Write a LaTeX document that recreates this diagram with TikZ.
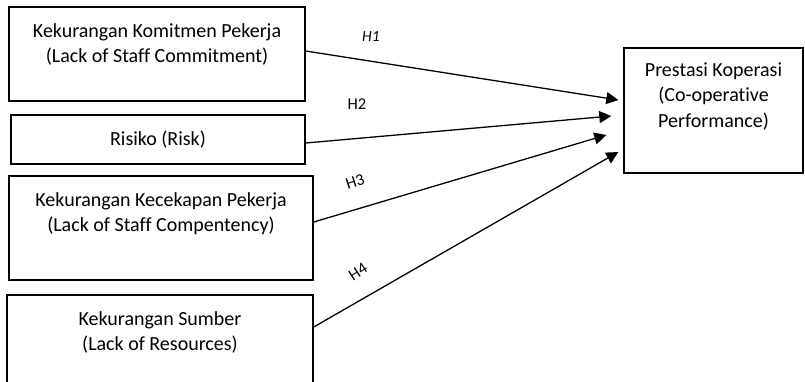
\documentclass[tikz,border=0pt]{standalone}
\usepackage{fontspec}
\setmainfont{Carlito}[Ligatures=NoCommon]
\usetikzlibrary{arrows.meta, positioning}

\begin{document}
\begin{tikzpicture}[
x=1pt, y=-1pt,
box/.style={draw, line width=1.4pt, inner sep=0},
txt/.style={align=center, inner sep=0, font=\fontsize{20}{25.5}\selectfont},
hyp/.style={inner sep=0, font=\fontsize{16.5}{19}\selectfont},
arrow/.style={-{Triangle[length=12pt, width=12pt]}, line width=1.3pt}
]
\useasboundingbox (0,0) rectangle (805,381);

\node[box, minimum width=296pt, minimum height=94pt] (commit) at (157,54) {};
\node[txt, below=17pt of commit.north] (commitT) {Kekurangan Komitmen Pekerja\\(Lack of Staff Commitment)};
\node[box, txt, minimum width=294pt, minimum height=49pt] (risk) at (158,139.5) {Risiko (Risk)};
\node[box, minimum width=304pt, minimum height=104pt] (skill) at (161,228) {};
\node[txt, below=17pt of skill.north] (skillT) {Kekurangan Kecekapan Pekerja\\(Lack of Staff Compentency)};
\node[box, minimum width=306pt, minimum height=105pt] (source) at (160,347.5) {};
\node[txt, below=17pt of source.north] (sourceT) {Kekurangan Sumber\\(Lack of Resources)};
\node[box, minimum width=179pt, minimum height=125pt] (perf) at (713.5,110.5) {};
\node[txt, below=15pt of perf.north] (perfT) {Prestasi Koperasi\\(Co-operative\\Performance)};

\node[hyp, font=\fontsize{15.5}{18}\selectfont\itshape] (h1) at (371,37) {H1};
\node[hyp] (h2) at (357,104) {H2};
\node[hyp, rotate=18] (h3) at (355,182) {H3};
\node[hyp, rotate=33] (h4) at (358,272) {H4};

\draw[arrow] ([yshift=3pt]commit.east) -- ([xshift=-5pt, yshift=10.5pt]perf.west);
\draw[arrow] ([yshift=-3.5pt]risk.east) -- ([xshift=-12pt, yshift=-5.5pt]perf.west);
\draw[arrow] ([yshift=6pt]skill.east) -- ([xshift=-17pt, yshift=-24.5pt]perf.west);
\draw[arrow] ([yshift=20.5pt]source.east) -- ([xshift=-5pt, yshift=-41.5pt]perf.west);

\end{tikzpicture}
\end{document}
